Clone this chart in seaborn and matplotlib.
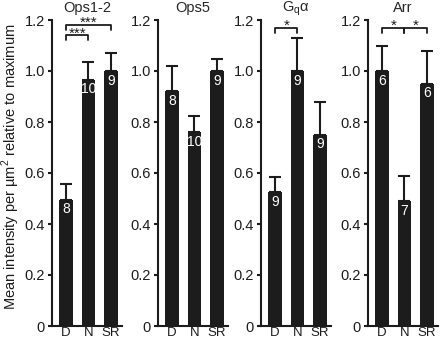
import numpy as np
import pandas as pd
import matplotlib
matplotlib.use("Agg")
import matplotlib.pyplot as plt
import seaborn as sns

# values
conditions = ["D", "N", "SR"]
panels = ["Ops1-2", "Ops5", "G$_\\mathregular{q}$α", "Arr"]
means = [
    [0.495, 0.965, 1.0],
    [0.92, 0.76, 1.0],
    [0.525, 1.0, 0.75],
    [1.0, 0.49, 0.95],
]
errors = [
    [0.06, 0.07, 0.07],
    [0.10, 0.065, 0.047],
    [0.06, 0.13, 0.13],
    [0.10, 0.10, 0.13],
]
counts = [
    ["8", "10", "9"],
    ["8", "10", "9"],
    ["9", "9", "9"],
    ["6", "7", "6"],
]
# significance: (panel, from, to, height, label)
sig = [
    (0, 0, 1, 1.14, "***"),
    (0, 0, 2, 1.18, "***"),
    (2, 0, 1, 1.17, "*"),
    (3, 0, 1, 1.17, "*"),
    (3, 1, 2, 1.17, "*"),
]

sns.set_theme(style="ticks")
plt.rcParams["font.family"] = ["Liberation Sans", "DejaVu Sans"]
plt.rcParams["mathtext.fontset"] = "custom"
plt.rcParams["mathtext.rm"] = "Liberation Sans"

fig = plt.figure(figsize=(4.4, 3.42), dpi=100)
lefts = [52, 158, 261, 368]
bar_col = "#1c1c1c"

for i, name in enumerate(panels):
    ax = fig.add_axes([lefts[i] / 440, 16 / 342, 70 / 440, 306 / 342])
    df = pd.DataFrame({"cond": conditions, "val": means[i]})
    sns.barplot(data=df, x="cond", y="val", color=bar_col, width=0.6,
                saturation=1, ax=ax, errorbar=None)
    for p in ax.patches:
        p.set_edgecolor("none")
    x = np.arange(len(conditions))
    ax.errorbar(x, means[i], yerr=[np.zeros(3), errors[i]], fmt="none",
                ecolor=bar_col, elinewidth=1.5, capsize=4, capthick=1.5)
    for xi, v, c in zip(x, means[i], counts[i]):
        ax.text(xi, v - 0.01, c, ha="center", va="top", color="white",
                fontsize=10)
    for (pi, a, b, h, lab) in sig:
        if pi != i:
            continue
        ax.plot([a, a, b, b], [h - 0.02, h, h, h - 0.02], color=bar_col,
                lw=1.3, clip_on=False)
        ax.text((a + b) / 2, h - 0.02, lab, ha="center", va="bottom",
                fontsize=11, color=bar_col)
    ax.set_xlim(-0.63, 2.5)
    ax.set_ylim(0, 1.2)
    ax.set_yticks([0, 0.2, 0.4, 0.6, 0.8, 1.0, 1.2])
    ax.set_yticklabels(["0", "0.2", "0.4", "0.6", "0.8", "1.0", "1.2"])
    ax.set_xlabel("")
    ax.set_ylabel("")
    ax.set_title(name, fontsize=10.5, pad=6)
    sns.despine(ax=ax)
    for s in ["left", "bottom"]:
        ax.spines[s].set_linewidth(1.5)
        ax.spines[s].set_color(bar_col)
    ax.tick_params(axis="y", length=3, width=1.5, pad=2, labelsize=10.5,
                   colors=bar_col)
    ax.tick_params(axis="x", length=0, pad=1, labelsize=9.5, colors=bar_col)

fig.text(0.025, 0.513, "Mean intensity per µm$^\\mathregular{2}$ relative to maximum",
         rotation=90, ha="center", va="center", fontsize=10.5, color=bar_col)

fig.savefig("out.png", dpi=100)
